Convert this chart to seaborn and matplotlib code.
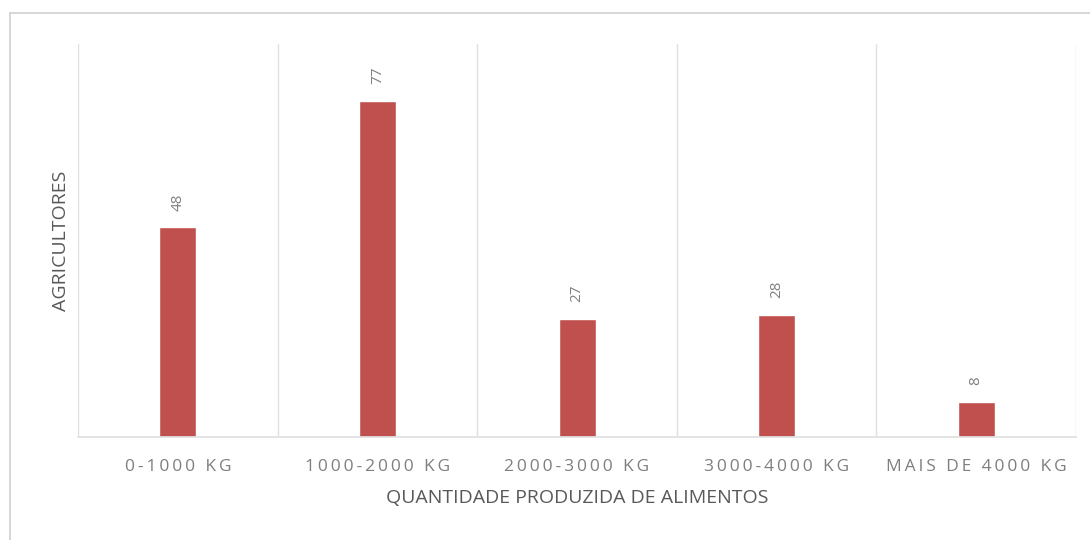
import numpy as np
import pandas as pd
import matplotlib
matplotlib.use("Agg")
import matplotlib.pyplot as plt
import seaborn as sns
from matplotlib.lines import Line2D

# Data
categories = ["0-1000 KG", "1000-2000 KG", "2000-3000 KG", "3000-4000 KG", "MAIS DE 4000 KG"]
agricultores = [48, 77, 27, 28, 8]

bar_color = "#C0504D"
text_grey = "#7F7F7F"
grid_grey = "#E0E0E0"

sns.set_theme(style="white")
plt.rcParams['font.family'] = ['Open Sans', 'DejaVu Sans']


def spaced(s):
    # tick labels in the original have wide letter spacing
    return "\u2009".join(s)


df = pd.DataFrame({"categoria": categories, "agricultores": agricultores})

fig = plt.figure(figsize=(10.9, 5.4), dpi=100)
ax = fig.add_axes([0.0716, 0.1907, 0.9156, 0.7278])

sns.barplot(data=df, x="categoria", y="agricultores", color=bar_color,
            saturation=1, width=0.185, ax=ax)

ax.set_ylim(0, 90)
ax.set_xlim(-0.5, len(categories) - 0.5)
ax.set_yticks([])

# vertical separators between categories
ax.set_xticks(np.arange(-0.5, len(categories)), minor=True)
ax.grid(which="minor", axis="x", color=grid_grey, linewidth=1)
ax.tick_params(which="both", length=0)

ax.set_xticks(range(len(categories)))
ax.set_xticklabels([spaced(c) for c in categories], color=text_grey, fontsize=12.5)
ax.tick_params(axis="x", pad=16)

for side in ["top", "left", "right"]:
    ax.spines[side].set_visible(False)
ax.spines["bottom"].set_color(grid_grey)

# value labels, rotated like the original
for cont in ax.containers:
    ax.bar_label(cont, labels=[str(v) for v in agricultores], rotation=90,
                 padding=12, color=text_grey, fontsize=11)

ax.set_ylabel("AGRICULTORES", color="#595959", fontsize=14, labelpad=6)
ax.set_xlabel("QUANTIDADE PRODUZIDA DE ALIMENTOS", color="#595959", fontsize=14, labelpad=10)

# light frame lines at the top and left of the chart area
fig.add_artist(Line2D([10 / 1090, 1], [1 - 13 / 540, 1 - 13 / 540],
                      transform=fig.transFigure, color="#D0D0D0", linewidth=1.2))
fig.add_artist(Line2D([10 / 1090, 10 / 1090], [0, 1 - 13 / 540],
                      transform=fig.transFigure, color="#D0D0D0", linewidth=1.2))

fig.savefig("out.png", dpi=100)
plt.close(fig)
